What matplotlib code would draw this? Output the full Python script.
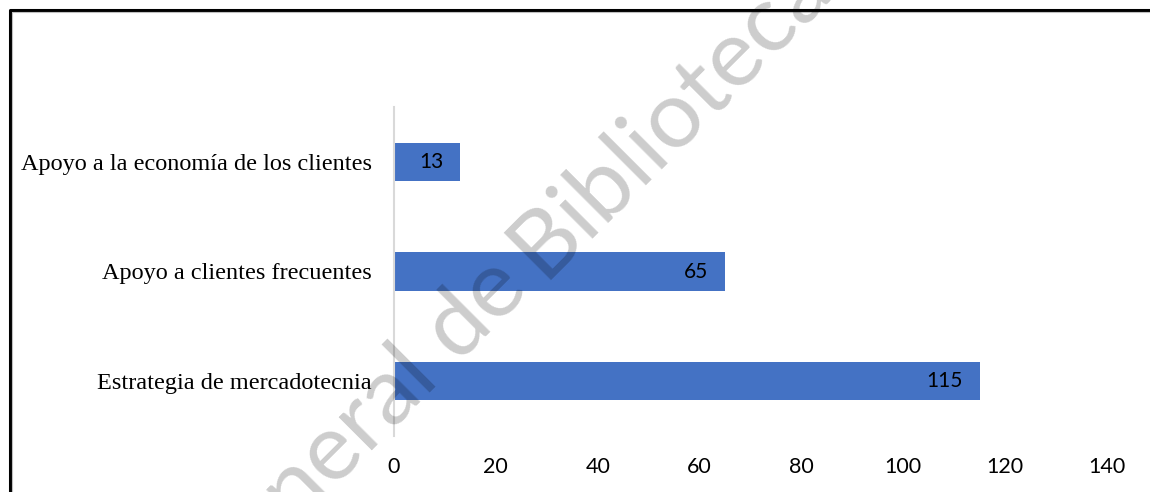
import matplotlib
matplotlib.use("Agg")
import matplotlib.pyplot as plt
from matplotlib.lines import Line2D

# Data
categories = ["Estrategia de mercadotecnia",
              "Apoyo a clientes frecuentes",
              "Apoyo a la economía de los clientes"]
values = [115, 65, 13]
xticks = [0, 20, 40, 60, 80, 100, 120, 140]
watermark_left = "General de"
watermark_right = "Bibliotecas"

W, H = 1150, 492
fig = plt.figure(figsize=(W / 100, H / 100), dpi=100)
fig.patch.set_facecolor("white")

ax = fig.add_axes([394 / W, 1 - 436 / H, (1107 - 394) / W, (436 - 107) / H])
ypos = list(range(len(categories)))
bars = ax.barh(ypos, values, height=0.35, color="#4472C4", zorder=2)

ax.set_xlim(0, 140)
ax.set_ylim(-0.5, len(categories) - 0.5)
ax.set_xticks(xticks)
ax.set_xticklabels([str(t) for t in xticks], fontfamily="Lato", fontsize=15.5)
ax.set_yticks(ypos)
ax.set_yticklabels(categories, fontfamily="Liberation Serif", fontsize=17.5)
ax.tick_params(axis="y", length=0, pad=16)
ax.tick_params(axis="x", length=0, pad=15)
for s in ["top", "right", "bottom"]:
    ax.spines[s].set_visible(False)
ax.spines["left"].set_color("#d9d9d9")
ax.spines["left"].set_linewidth(1.5)

for b, v in zip(bars, values):
    ax.annotate(str(v), xy=(b.get_width(), b.get_y() + b.get_height() / 2),
                xytext=(-12, 0), textcoords="offset points",
                ha="right", va="center", fontfamily="Lato", fontsize=15,
                color="black", zorder=3)

# Frame lines (left and top border)
fig.add_artist(Line2D([10 / W, 10 / W, 1.0], [0.0, 1 - 10 / H, 1 - 10 / H],
                      transform=fig.transFigure, color="black", linewidth=2.2))
fig.add_artist(Line2D([12 / W, 12 / W, 1.0], [0.0, 1 - 12 / H, 1 - 12 / H],
                      transform=fig.transFigure, color="#bfbfbf", linewidth=0.8))

# Watermark
ax0 = (543) / W
ay0 = 1 - 280 / H
fig.text(ax0, ay0, watermark_right, rotation=45, rotation_mode="anchor",
         ha="left", va="baseline", fontfamily="Lato", fontsize=68,
         color="black", alpha=0.2, zorder=10)
fig.text(ax0 - 12 / W, ay0 - 12 / H, watermark_left, rotation=45, rotation_mode="anchor",
         ha="right", va="baseline", fontfamily="Lato", fontsize=68,
         color="black", alpha=0.2, zorder=10)

fig.savefig("out.png", dpi=100)
